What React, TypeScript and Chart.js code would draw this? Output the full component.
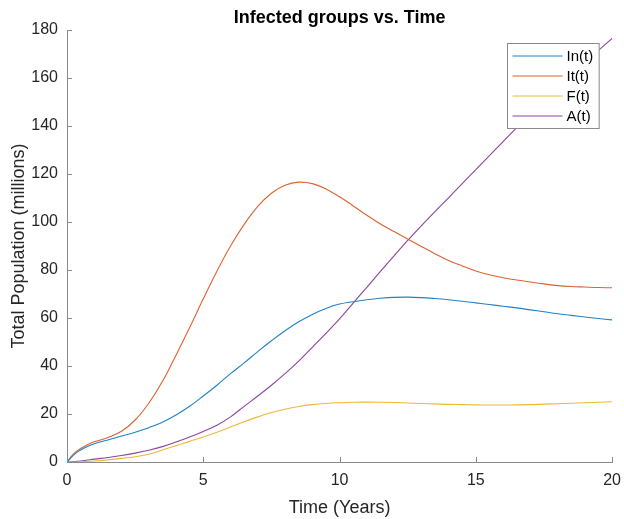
import React, { useEffect, useRef } from "react";
import { Chart, registerables } from "chart.js";

Chart.register(...registerables);

const years = [0, 0.25, 0.5, 0.75, 1, 1.5, 2, 2.5, 3, 3.5, 4, 4.5, 5, 5.5, 6, 6.5, 7, 7.5, 8, 8.5, 9, 9.5, 10, 10.5, 11, 11.5, 12, 12.5, 13, 13.5, 14, 14.5, 15, 15.5, 16, 16.5, 17, 17.5, 18, 18.5, 19, 19.5, 20];

const inT = [0, 3, 5, 6.5, 7.6, 9.2, 10.8, 12.4, 14.3, 16.6, 19.6, 23.2, 27.5, 32, 36.8, 41.3, 46, 50.5, 54.7, 58.4, 61.5, 64, 65.8, 66.8, 67.6, 68.2, 68.6, 68.7, 68.5, 68.1, 67.6, 67, 66.3, 65.6, 64.9, 64.2, 63.4, 62.6, 61.8, 61.1, 60.4, 59.8, 59.2];

const itT = [0, 3.5, 5.6, 7.2, 8.4, 10.2, 12.8, 17.5, 24.5, 33.5, 44.5, 56, 68, 79.5, 90, 99, 106.5, 112, 115.3, 116.6, 116, 113.8, 110.5, 106.7, 102.8, 99.2, 96, 92.9, 89.8, 86.8, 84, 81.7, 79.6, 78, 76.8, 75.8, 75, 74.2, 73.5, 73.1, 72.9, 72.7, 72.6];

const fT = [0, 0.02, 0.1, 0.25, 0.4, 0.9, 1.5, 2.2, 3.2, 5, 6.8, 8.6, 10.4, 12.4, 14.6, 16.8, 18.8, 20.6, 22, 23.1, 23.9, 24.4, 24.7, 24.9, 24.95, 24.9, 24.8, 24.6, 24.4, 24.2, 24, 23.9, 23.8, 23.75, 23.75, 23.8, 23.9, 24.1, 24.3, 24.5, 24.7, 24.9, 25.1];

const aT = [0, 0.15, 0.4, 0.8, 1.2, 1.9, 2.7, 3.7, 4.9, 6.4, 8.3, 10.4, 12.7, 15.3, 18.8, 23.2, 27.5, 32, 36.8, 42, 47.8, 53.6, 59.6, 66.2, 72.8, 79.4, 85.9, 92.3, 98.4, 104.3, 110.1, 116, 121.8, 127.7, 133.5, 139.3, 145, 150.5, 156, 161.3, 166.5, 171.5, 176.5];

const seriesLabels = ["In(t)", "It(t)", "F(t)", "A(t)"];
const seriesColors = ["#1f82c6", "#dc6230", "#eeb836", "#8c469b"];
const xTicks = [0, 5, 10, 15, 20];
const yTicks = [0, 20, 40, 60, 80, 100, 120, 140, 160, 180];

const FONT = "'Liberation Sans', Arial, Helvetica, sans-serif";
const AXIS_COLOR = "#8a8a8a";
const TEXT_COLOR = "#262626";

const inwardTicks = {
  id: "inwardTicks",
  afterDraw(chart: any) {
    const { ctx, chartArea } = chart;
    const xs = chart.scales.x;
    const ys = chart.scales.y;
    ctx.save();
    ctx.strokeStyle = AXIS_COLOR;
    ctx.lineWidth = 1;
    ctx.beginPath();
    for (const v of xTicks) {
      const px = Math.round(xs.getPixelForValue(v)) + 0.5;
      ctx.moveTo(px, chartArea.bottom);
      ctx.lineTo(px, chartArea.bottom - 5);
    }
    for (const v of yTicks) {
      const py = Math.round(ys.getPixelForValue(v)) + 0.5;
      ctx.moveTo(chartArea.left, py);
      ctx.lineTo(chartArea.left + 5, py);
    }
    ctx.stroke();
    ctx.restore();
  },
};

const boxLegend = {
  id: "boxLegend",
  afterDraw(chart: any) {
    const { ctx, chartArea } = chart;
    const ds = chart.data.datasets;
    ctx.save();
    ctx.font = `15px ${FONT}`;
    let maxW = 0;
    for (const d of ds) maxW = Math.max(maxW, ctx.measureText(d.label).width);
    const lineLen = 50;
    const w = 5 + lineLen + 4 + maxW + 6;
    const rowH = 20;
    const h = 12.5 + rowH * (ds.length - 1) + 12.5;
    const right = chartArea.right - 13;
    const left = Math.round(right - w) + 0.5;
    const top = chartArea.top + 13.5;
    ctx.fillStyle = "#ffffff";
    ctx.fillRect(left, top, w, h);
    ctx.strokeStyle = "#8a8a8a";
    ctx.lineWidth = 1;
    ctx.strokeRect(left, top, w, h);
    ds.forEach((d: any, i: number) => {
      const cy = top + 12.5 + i * rowH;
      ctx.strokeStyle = d.borderColor;
      ctx.beginPath();
      ctx.moveTo(left + 5, cy);
      ctx.lineTo(left + 5 + lineLen, cy);
      ctx.stroke();
      ctx.fillStyle = "#000000";
      ctx.textBaseline = "middle";
      ctx.textAlign = "left";
      ctx.fillText(d.label, left + 5 + lineLen + 4, cy + 0.5);
    });
    ctx.restore();
  },
};

export default function App() {
  const ref = useRef<HTMLCanvasElement | null>(null);
  useEffect(() => {
    if (!ref.current) return;
    const all = [inT, itT, fT, aT];
    const chart = new Chart(ref.current, {
      type: "line",
      data: {
        datasets: all.map((vals, i) => ({
          label: seriesLabels[i],
          data: years.map((x, j) => ({ x, y: vals[j] })),
          borderColor: seriesColors[i],
          backgroundColor: seriesColors[i],
          borderWidth: 1.1,
          pointRadius: 0,
          fill: false,
          tension: 0.4,
        })),
      },
      options: {
        responsive: false,
        animation: false,
        devicePixelRatio: 1,
        layout: { padding: { left: 0, right: 0, top: 0, bottom: 0 } },
        plugins: {
          legend: { display: false },
          tooltip: { enabled: false },
          title: {
            display: true,
            text: "Infected groups vs. Time",
            fullSize: false,
            color: "#000000",
            font: { family: FONT, size: 18, weight: "bold" },
            padding: { top: 7.5, bottom: 0.9 },
          },
        },
        scales: {
          x: {
            type: "linear",
            min: 0,
            max: 20,
            afterFit: (s: any) => {
              s.height = 57;
            },
            afterBuildTicks: (s: any) => {
              s.ticks = xTicks.map((v) => ({ value: v }));
            },
            grid: {
              display: true,
              drawOnChartArea: false,
              drawTicks: true,
              tickLength: 6,
              tickColor: "rgba(0,0,0,0)",
              color: "rgba(0,0,0,0)",
            },
            border: { display: true, color: AXIS_COLOR, width: 1 },
            ticks: {
              color: TEXT_COLOR,
              font: { family: FONT, size: 16 },
              padding: 3,
              maxRotation: 0,
            },
            title: {
              display: true,
              text: "Time (Years)",
              color: TEXT_COLOR,
              font: { family: FONT, size: 18 },
              padding: { top: 2, bottom: 0 },
            },
          },
          y: {
            type: "linear",
            min: 0,
            max: 180,
            afterFit: (s: any) => {
              s.width = 67;
            },
            afterBuildTicks: (s: any) => {
              s.ticks = yTicks.map((v) => ({ value: v }));
            },
            grid: { display: true, drawOnChartArea: false, drawTicks: false },
            border: { display: true, color: AXIS_COLOR, width: 1 },
            ticks: {
              color: TEXT_COLOR,
              font: { family: FONT, size: 16 },
              padding: 9,
            },
            title: {
              display: true,
              text: "Total Population (millions)",
              color: TEXT_COLOR,
              font: { family: FONT, size: 18 },
              padding: { top: 8, bottom: 0 },
            },
          },
        },
      },
      plugins: [inwardTicks, boxLegend],
    });
    return () => chart.destroy();
  }, []);
  return (
    <div style={{ position: "fixed", left: 0, top: 0, width: 624, height: 519, background: "#ffffff" }}>
      <canvas ref={ref} width={624} height={519} style={{ display: "block", width: 624, height: 519 }} />
    </div>
  );
}
